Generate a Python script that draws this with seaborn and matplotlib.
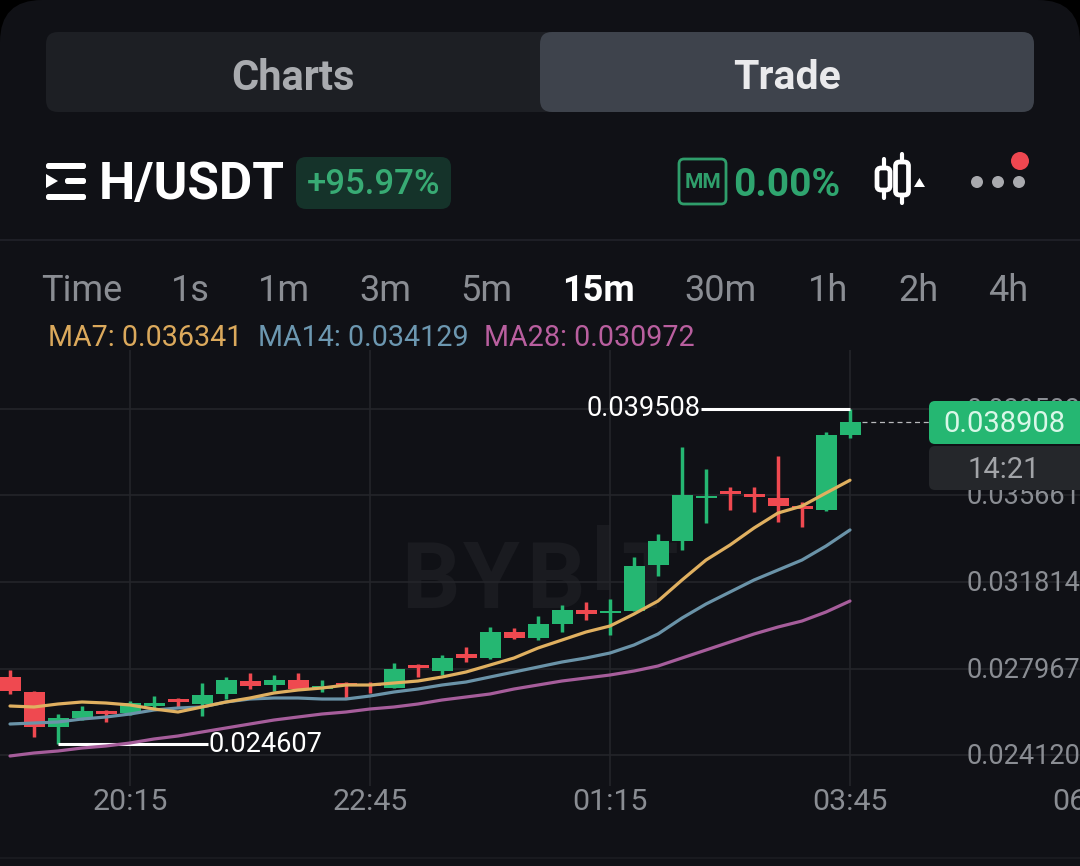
import numpy as np
import pandas as pd
import seaborn as sns
import matplotlib
matplotlib.use("Agg")
import matplotlib.pyplot as plt
from matplotlib.patches import FancyBboxPatch, Circle, Polygon, Rectangle
from matplotlib.transforms import ScaledTranslation

# ---- data (prices in millionths of USDT) ----
open_ = [27589,26922,25365,25765,26077,25988,26299,26610,26388,26833,27411,27233,27455,27055,27322,27277,27099,28122,27855,
         28611,28434,29590,29323,29946,30568,30435,30524,32569,33637,35549,35860,35727,35549,35193,35015,38350]
close = [26966,25365,25765,26077,25943,26432,26432,26477,26788,27455,27188,27455,27055,27188,27233,27188,27944,27989,28434,
         28434,29590,29323,29946,30568,30390,30524,32525,33637,35682,35638,35727,35593,35193,35060,38350,38908]
high = [27900,26966,25943,26299,26121,26521,26744,26655,27322,27589,27767,27678,27767,27455,27366,27366,28211,28167,28567,
        28923,29812,29768,30301,30791,30924,31057,32925,33948,37817,36838,36038,36038,37417,35371,38484,39508]
low = [26833,24920,24607,25676,25588,25899,26210,26255,25854,26610,27055,26966,27011,26922,26610,26877,27099,27589,27678,
       28256,28389,29279,29234,29590,30123,29456,30524,32080,33236,34437,35015,34926,34482,34259,34971,38217]
ma7 = [26299,26255,26388,26477,26432,26344,26166,26032,26255,26477,26655,26877,27011,27099,27233,27233,27322,27411,27589,
       27811,28122,28434,28878,29234,29590,29857,30390,30968,31902,32792,33459,34215,34882,35193,35771,36341]
ma14 = [25499,25543,25588,25721,25810,25943,26121,26210,26255,26477,26610,26655,26655,26610,26610,26744,26922,27055,27233,
        27366,27589,27811,28033,28256,28434,28656,29012,29501,30212,30835,31369,31902,32347,32792,33414,34129]
ma28 = [24076,24209,24298,24431,24520,24654,24832,24965,25143,25321,25499,25676,25810,25943,26032,26166,26255,26388,26566,
        26699,26833,27055,27233,27411,27544,27678,27855,28078,28434,28789,29145,29501,29812,30079,30479,30968]
price_ticks = [0.024120, 0.027967, 0.031814, 0.035661, 0.039508]
time_ticks = [5, 15, 25, 35, 45]
time_labels = ["20:15", "22:45", "01:15", "03:45", "06:15"]
intervals = ["Time", "1s", "1m", "3m", "5m", "15m", "30m", "1h", "2h", "4h"]
interval_x = [82, 190, 284, 385, 486, 598, 721, 828, 918, 1008]

df = pd.DataFrame({"i": np.arange(len(open_)), "open": open_, "close": close, "high": high, "low": low,
                   "ma7": ma7, "ma14": ma14, "ma28": ma28})
for c in ["open", "close", "high", "low", "ma7", "ma14", "ma28"]:
    df[c] = df[c] / 1e6

BG = "#101116"
GRID = "#25262b"
GREEN = "#25b772"
RED = "#ef4950"
MUTED = "#8a8d93"

sns.set_theme(style="dark", rc={"axes.facecolor": "none", "figure.facecolor": "#000000"})
plt.rcParams["font.family"] = ["Roboto", "DejaVu Sans"]

W, H = 1080, 866
fig = plt.figure(figsize=(W / 100, H / 100), dpi=100, facecolor="#000000")


def layer(z):
    a = fig.add_axes([0, 0, 1, 1], zorder=z)
    a.set_xlim(0, W)
    a.set_ylim(H, 0)
    a.axis("off")
    return a


def rbox(a, x0, y0, x1, y1, r, fc, ec="none", lw=0, z=1):
    a.add_patch(FancyBboxPatch((x0, y0), x1 - x0, y1 - y0, boxstyle=f"round,pad=0,rounding_size={r}",
                               fc=fc, ec=ec, lw=lw, zorder=z))


back = layer(0)
rbox(back, 0, 0, W, H + 60, 42, BG)
back.plot([0, W], [240, 240], color="#22232a", lw=1.2, zorder=2)
back.plot([0, W], [858, 858], color="#1b1c21", lw=1.2, zorder=2)

# tabs
rbox(back, 46, 32, 1034, 112, 12, "#1d1f24")
rbox(back, 540, 32, 1034, 112, 12, "#3e434c", z=2)
back.text(293, 78, "Charts", color="#a9abaf", fontsize=30, fontweight="bold", ha="center", va="center", zorder=3)
back.text(787, 78, "Trade", color="#eaeaec", fontsize=29.5, fontweight="bold", ha="center", va="center", zorder=3)

# header
for (x0, x1, y0, y1) in [(46, 86, 163, 169), (65, 86, 178, 184), (46, 86, 194, 200)]:
    rbox(back, x0, y0, x1, y1, 2.5, "white", z=3)
back.add_patch(Polygon([[46, 174], [58, 181], [46, 188]], fc="white", ec="none", zorder=3))
back.text(99, 185, "H/USDT", color="white", fontsize=37, fontweight="bold", ha="left", va="center", zorder=3)
rbox(back, 296, 157, 451, 209, 10, "#15332a")
back.text(373.5, 185, "+95.97%", color="#38ab74", fontsize=25, fontweight="medium", ha="center", va="center", zorder=3)
rbox(back, 679, 159, 726, 204, 5, "none", ec="#2f9e6b", lw=2)
back.text(702.5, 183, "MM", color="#2f9e6b", fontsize=15, fontweight="bold", ha="center", va="center", zorder=3)
back.text(733, 185, "0.00%", color="#2fa56f", fontsize=28, fontweight="bold", ha="left", va="center", zorder=3)
for cx, y0, y1, wy0, wy1 in [(883.5, 168, 190, 159, 198), (902, 162, 195, 154, 203)]:
    back.plot([cx, cx], [wy0, wy1], color="white", lw=3, solid_capstyle="round", zorder=3)
    rbox(back, cx - 6.5, y0, cx + 6.5, y1, 4, BG, ec="white", lw=3.4, z=4)
back.add_patch(Polygon([[914, 187], [919.5, 178], [925, 187]], fc="white", ec="none", zorder=3))
for cx in [977, 998, 1019]:
    back.add_patch(Circle((cx, 182), 6, fc="#a9aaae", ec="none", zorder=3))
back.add_patch(Circle((1020, 161), 9, fc="#ee4750", ec="none", zorder=4))

# interval row
for lab, x in zip(intervals, interval_x):
    on = lab == "15m"
    back.text(x, 291, lab, color="white" if on else MUTED, fontsize=26, fontweight="bold" if on else "normal",
              ha="center", va="center", zorder=3)

# MA legend
back.text(48, 337.5, "MA7: 0.036341", color="#dba95c", fontsize=20.6, ha="left", va="center", zorder=3)
back.text(258, 337.5, "MA14: 0.034129", color="#6c97b0", fontsize=20.6, ha="left", va="center", zorder=3)
back.text(484, 337.5, "MA28: 0.030972", color="#b95f9f", fontsize=20.6, ha="left", va="center", zorder=3)

# watermark
WM = "#1a1b20"
for ch, x in [("B", 401), ("Y", 463), ("B", 526), ("T", 621)]:
    back.text(x, 608, ch, color=WM, fontsize=66, fontweight="bold", ha="left", va="baseline", zorder=1.5)
back.add_patch(Rectangle((597, 525), 13, 65, fc=WM, ec="none", zorder=1.5))

# ---- chart ----
px_per_candle = 24.0
k = (0.035661 - 0.031814) / 86.5
y_of = lambda py: 0.031814 + (582 - py) * k
x_of = lambda px: (px - 10) / px_per_candle
top, bottom, right = 350, 786, 1130
ax = fig.add_axes([0, (H - bottom) / H, right / W, (bottom - top) / H], zorder=1)
ax.set_xlim(x_of(0), x_of(right))
ax.set_ylim(y_of(bottom), y_of(top))
ax.set_facecolor("none")
for s in ax.spines.values():
    s.set_visible(False)

up = df.close >= df.open
colors = np.where(up, GREEN, RED)
ax.vlines(df.i, df.low, df.high, colors=colors, lw=2.5, zorder=3)
body = (df.close - df.open)
ax.bar(df.i, body, bottom=df.open, width=21 / px_per_candle, color=colors, linewidth=0, zorder=3)

for col, c in [("ma28", "#a65d9b"), ("ma14", "#6a93a8"), ("ma7", "#e0b060")]:
    sns.lineplot(data=df, x="i", y=col, ax=ax, color=c, lw=2.3, errorbar=None, legend=False, zorder=4)
ax.set_xlabel("")
ax.set_ylabel("")

ax.set_xticks(time_ticks)
ax.set_xticklabels(time_labels)
ax.set_yticks(price_ticks)
ax.set_yticklabels([f"{v:.6f}" for v in price_ticks])
ax.yaxis.tick_right()
ax.grid(True, color=GRID, lw=1.1, zorder=0)
ax.set_axisbelow(True)
ax.tick_params(axis="x", length=0, pad=1.5, labelsize=21.8, labelcolor=MUTED)
ax.tick_params(axis="y", length=0, pad=-(right - 967) * 0.72, labelsize=19.5, labelcolor=MUTED)
for lab in ax.get_yticklabels():
    lab.set_transform(lab.get_transform() + ScaledTranslation(0, 1.5 / 100, fig.dpi_scale_trans))

# high / low markers
i_hi, i_lo = int(df.high.idxmax()), int(df.low.idxmin())
hi, lo = df.high.max(), df.low.min()
ax.hlines(hi, x_of(701), i_hi, color="white", lw=2.2, zorder=5)
ax.text(x_of(701), hi, f"{hi:.6f}", color="white", fontsize=19.6, ha="right", va="center", zorder=5)
ax.hlines(lo, i_lo, x_of(208), color="white", lw=2.2, zorder=3.5)
ax.text(x_of(208), lo, f"{lo:.6f}", color="white", fontsize=19.6, ha="left", va="center", zorder=5)
last = df.close.iloc[-1]
ax.hlines(last, i_hi + 0.5, x_of(929), color="#b9babd", lw=0.9, linestyles=(0, (4, 3)), zorder=2)

# ---- price tags ----
front = layer(2)
rbox(front, 929, 401, 1100, 444, 6, GREEN)
front.text(1004, 424.5, f"{last:.6f}", color="#d9f7e8", fontsize=21, ha="center", va="center", zorder=3)
rbox(front, 929, 446, 1100, 490, 6, "#25272b")
front.text(1004, 469.5, "14:21", color="#a2a4a8", fontsize=21, ha="center", va="center", zorder=3)

fig.savefig("out.png", dpi=100, facecolor=fig.get_facecolor())
